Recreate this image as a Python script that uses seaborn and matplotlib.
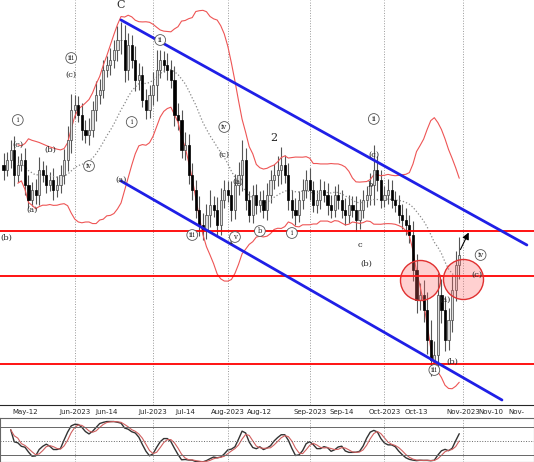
import numpy as np
import pandas as pd
import matplotlib
matplotlib.use("Agg")
import matplotlib.pyplot as plt
import seaborn as sns

sns.set_style("white")
plt.rcParams['font.family'] = ['DejaVu Serif']

# closes (price scale = 1000 - pixel row)
close_px = [170, 160, 150, 175, 165, 160, 185, 200, 190, 195, 170, 175, 185, 180, 190, 185, 175,
            160, 140, 110, 105, 115, 130,
            135, 130, 110, 95, 90, 70, 65, 60, 50, 40,
            40, 70, 45, 60, 80, 75, 100, 110, 95, 85, 70, 60,
            65, 70, 80,
            115, 120, 150, 145, 175, 190, 210, 225, 230, 215, 205, 210, 225,
            200, 190, 195, 210, 185, 175, 160, 200, 215, 195, 205, 200, 210, 195, 180,
            175, 170, 165, 175, 200,
            210, 215, 200, 190, 180, 190, 205, 200, 190, 195, 205, 210, 195, 200, 210,
            215, 205, 210, 220, 210, 200, 195, 185, 170, 180,
            200, 195, 190, 200, 205, 215, 220, 225,
            235, 270, 300, 295, 310, 340, 360, 355, 295, 310, 340, 320, 290, 265, 255]
wick = [12, 8, 10, 14, 9, 7, 12, 10, 8, 11, 13, 9, 10, 8, 12, 9, 10,
        11, 14, 16, 10, 9, 12,
        10, 12, 9, 14, 11, 10, 9, 12, 10, 14,
        18, 15, 12, 10, 14, 12, 9, 11, 10, 13, 20, 10,
        9, 12, 10,
        14, 12, 10, 13, 11, 12, 10, 14, 12, 11, 15, 9, 13,
        12, 10, 9, 14, 11, 13, 20, 12, 9, 10, 11, 9, 10, 12, 10,
        11, 14, 18, 10, 12,
        10, 12, 9, 11, 10, 12, 9, 10, 11, 9, 12, 10, 9, 11, 10,
        12, 10, 9, 14, 11, 10, 9, 12, 25, 14,
        10, 9, 11, 10, 9, 10, 11, 12,
        10, 14, 16, 12, 15, 18, 20, 14, 22, 16, 14, 12, 15, 14, 18]
price = 1000 - np.array(close_px, dtype=float)
wick = np.array(wick, dtype=float)
n = len(price)
opens = np.r_[price[0] + 5, price[:-1]]
highs = np.maximum(opens, price) + wick
lows = np.minimum(opens, price) - wick * 0.8

dates = pd.bdate_range("2023-05-04", periods=150)
tick_dates = ["2023-05-12", "2023-06-01", "2023-06-14", "2023-07-03", "2023-07-14", "2023-08-01",
              "2023-08-14", "2023-09-01", "2023-09-14", "2023-10-02", "2023-10-13", "2023-11-01",
              "2023-11-13", "2023-11-22"]
tick_labels = ["May-12", "Jun-2023", "Jun-14", "Jul-2023", "Jul-14", "Aug-2023", "Aug-12",
               "Sep-2023", "Sep-14", "Oct-2023", "Oct-13", "Nov-2023", "Nov-10", "Nov-"]
month_starts = ["2023-06-01", "2023-07-03", "2023-08-01", "2023-09-01", "2023-10-02", "2023-11-01"]
levels_px = [231, 276, 364]
upper_channel_px = [(33, 20), (147, 245)]
lower_channel_px = [(33, 181), (140, 400)]
circles_px = [(117, 280), (129, 279)]

def idx(d):
    return dates.get_indexer([pd.Timestamp(d)])[0]

fig = plt.figure(figsize=(5.34, 4.62), dpi=100)
ax = fig.add_axes([0, 1 - 405 / 462, 1, 405 / 462])
ax2 = fig.add_axes([0, 0, 1, 44 / 462])

x = np.arange(n)
ax.vlines(x, lows, highs, color="#555555", lw=0.8, zorder=2)
up = price >= opens
ax.bar(x[up], (price - opens)[up] + 0.5, bottom=opens[up], width=0.6,
       color="#dddddd", edgecolor="#444444", lw=0.5, zorder=3)
ax.bar(x[~up], (opens - price)[~up] + 0.5, bottom=price[~up], width=0.6,
       color="black", edgecolor="black", lw=0.5, zorder=3)

s = pd.Series(price)
mid = s.rolling(20, min_periods=5).mean()
sd = s.rolling(20, min_periods=5).std()
ax.plot(x, mid, color="#888888", ls=":", lw=0.9)
ax.plot(x, mid + 2 * sd, color="#ee5555", lw=0.8)
ax.plot(x, mid - 2 * sd, color="#ee5555", lw=0.8)

for lv in levels_px:
    ax.axhline(1000 - lv, color="red", lw=1.3, zorder=4)
for ch in (upper_channel_px, lower_channel_px):
    ax.plot([ch[0][0], ch[1][0]], [1000 - ch[0][1], 1000 - ch[1][1]], color="#1f1fe6", lw=2, zorder=4)
for d in month_starts:
    ax.axvline(idx(d), color="#999999", ls=":", lw=0.7, zorder=1)

ax.scatter([c[0] for c in circles_px], [1000 - c[1] for c in circles_px], s=830,
           facecolor=(1, 0.4, 0.4, 0.3), edgecolor="#e03030", lw=1, zorder=5)
ax.annotate("", xy=(131, 770), xytext=(128, 748),
            arrowprops=dict(arrowstyle="-|>", color="black", lw=0.8))

labels = [(33, 995, "C", 8), (76, 862, "2", 8), (64, 758, "1", 7), (103, 815, "b", 6),
          (100, 755, "c", 6), (124, 700, "(a)", 6), (126, 638, "(b)", 6), (133, 725, "(c)", 6),
          (19, 925, "(c)", 6), (62, 845, "(c)", 6), (104, 845, "(c)", 6), (4, 855, "(c)", 6),
          (13, 850, "(b)", 6), (8, 790, "(a)", 6), (33, 820, "(a)", 6), (66, 818, "(a)", 6),
          (102, 736, "(b)", 6), (0.8, 762, "(b)", 6)]
for lx, ly, t, fs in labels:
    ax.text(lx, ly, t, fontsize=fs, ha="center", va="center", zorder=6)
circled = [(4, 880, "i"), (19, 942, "iii"), (24, 834, "iv"), (36, 878, "i"), (44, 960, "ii"),
           (62, 873, "iv"), (53, 765, "iii"), (65, 763, "v"), (72, 769, "b"), (81, 767, "i"),
           (104, 881, "ii"), (121, 630, "iii"), (134, 745, "iv")]
for lx, ly, t in circled:
    ax.text(lx, ly, t, fontsize=5, ha="center", va="center", zorder=6,
            bbox=dict(boxstyle="circle,pad=0.2", fc="white", ec="#555555", lw=0.6))

ax.set_xlim(-1, 149)
ax.set_ylim(595, 1000)
ax.set_yticks([])
ax.set_xticks([idx(d) for d in tick_dates])
ax.set_xticklabels(tick_labels, fontsize=5, family="DejaVu Sans")
ax.tick_params(axis="x", length=2, pad=1)
for sp in ax.spines.values():
    sp.set_visible(False)
ax.spines["bottom"].set_visible(True)

# stochastic oscillator from the same bars
hh = pd.Series(highs).rolling(14, min_periods=3).max()
ll = pd.Series(lows).rolling(14, min_periods=3).min()
k = 100 * (s - ll) / (hh - ll)
k_s = k.rolling(3, min_periods=1).mean()
d_s = k_s.rolling(3, min_periods=1).mean()
ax2.plot(x, k_s, color="#333333", lw=1)
ax2.plot(x, d_s, color="#d06060", lw=0.8)
for lv in (20, 80):
    ax2.axhline(lv, color="#666666", lw=0.7)
ax2.axhline(50, color="#666666", ls=":", lw=0.7)
for d in month_starts:
    ax2.axvline(idx(d), color="#999999", ls=":", lw=0.7)
ax2.set_xlim(-1, 149)
ax2.set_ylim(5, 100)
ax2.set_xticks([])
ax2.set_yticks([])
for sp in ax2.spines.values():
    sp.set_color("#666666")

fig.savefig("out.png", dpi=100)
